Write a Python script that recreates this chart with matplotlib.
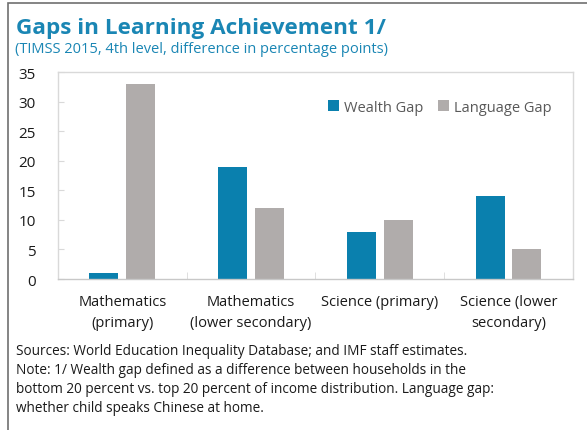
import numpy as np
import matplotlib
matplotlib.use('Agg')
from matplotlib import pyplot as plt
from matplotlib.patches import Rectangle

plt.rcParams['font.family'] = ['Open Sans', 'DejaVu Sans']

categories = ['Mathematics\n(primary)', 'Mathematics\n(lower secondary)',
              'Science (primary)', 'Science (lower\nsecondary)']
wealth_gap = [1, 19, 8, 14]
language_gap = [33, 12, 10, 5]
y_ticks = [0, 5, 10, 15, 20, 25, 30, 35]

BLUE = '#0A80AE'
GREY = '#B0ACAB'
TITLE_BLUE = '#1A86B4'
FRAME = '#D9D9D9'

fig = plt.figure(figsize=(5.87, 4.31), dpi=100)
ax = fig.add_axes([0.0988, 0.3503, 0.8772, 0.4803])

x = np.arange(len(categories))
w = 0.225
ax.bar(x - 0.143, wealth_gap, width=w, color=BLUE, label='Wealth Gap')
ax.bar(x + 0.143, language_gap, width=w, color=GREY, label='Language Gap')

ax.set_xlim(-0.5, len(categories) - 0.5)
ax.set_ylim(0, 35)
ax.set_yticks(y_ticks)
ax.set_yticklabels([str(t) for t in y_ticks], fontsize=11, color='#1a1a1a')
ax.set_xticks(x)
ax.set_xticklabels(categories, fontsize=10.5, color='#1a1a1a', linespacing=1.5)
ax.tick_params(axis='x', length=0, pad=11)
ax.tick_params(axis='y', direction='in', length=4, color=FRAME, pad=16)

# category separators on the baseline
ax.set_xticks(x[:-1] + 0.5, minor=True)
ax.tick_params(axis='x', which='minor', direction='in', length=5, color=FRAME)
for sp in ax.spines.values():
    sp.set_color(FRAME)
    sp.set_linewidth(1)
ax.spines['bottom'].set_color('#C8C8C8')

leg = ax.legend(loc='upper right', bbox_to_anchor=(0.985, 0.93), ncol=2, frameon=False,
                fontsize=10.5, handlelength=0.75, handleheight=0.75, handletextpad=0.35,
                columnspacing=1.0, labelcolor='#595959')

fig.text(0.027, 0.933, 'Gaps in Learning Achievement 1/', fontsize=16.2, fontweight='bold',
         color=TITLE_BLUE, va='center')
fig.text(0.025, 0.884, '(TIMSS 2015, 4th level, difference in percentage points)',
         fontsize=10.5, color=TITLE_BLUE, va='center')

notes = ('Sources: World Education Inequality Database; and IMF staff estimates.\n'
         'Note: 1/ Wealth gap defined as a difference between households in the\n'
         'bottom 20 percent vs. top 20 percent of income distribution. Language gap:\n'
         'whether child speaks Chinese at home.')
fig.text(0.027, 1 - 344 / 431, notes, fontsize=9.8, color='#1a1a1a', va='top',
         linespacing=1.36)

# outer frame
fig.patches.append(Rectangle((8 / 587, -0.01), 1.0, 1 - 4 / 431 + 0.01,
                             transform=fig.transFigure, fill=False,
                             edgecolor='#707070', linewidth=1.2))

fig.savefig('out.png', dpi=100)
